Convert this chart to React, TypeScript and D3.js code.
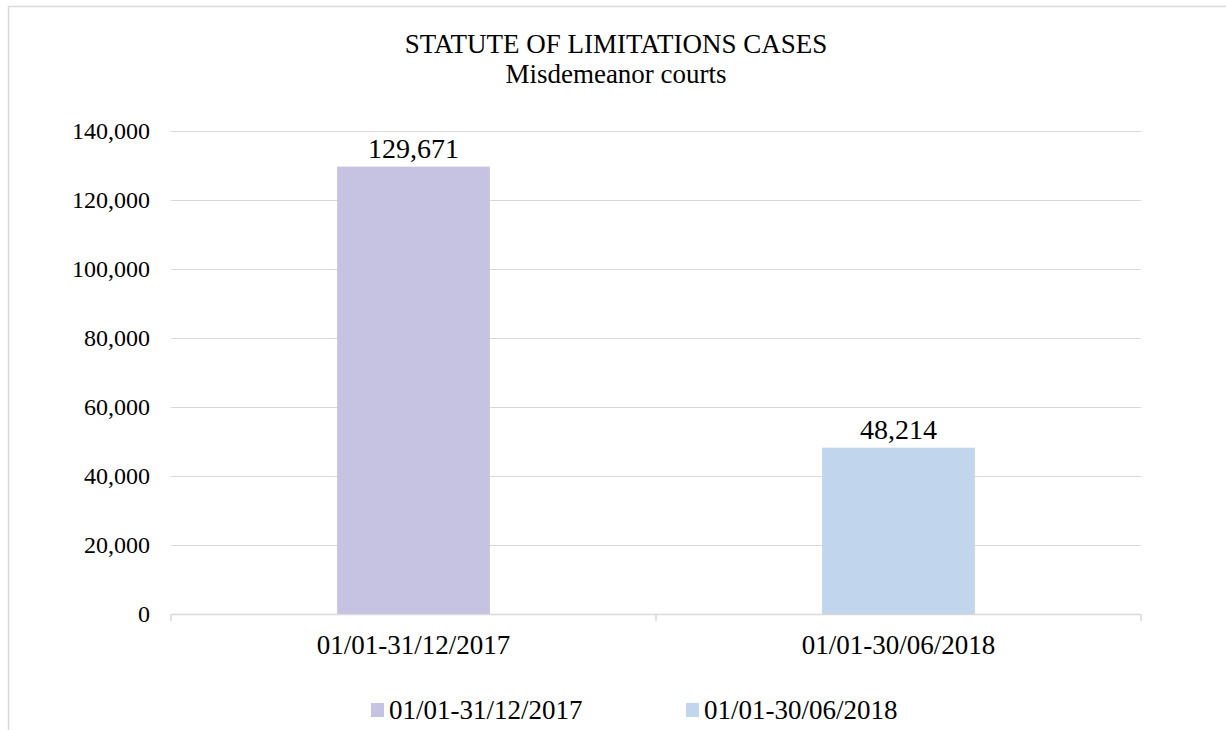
import React, { useEffect, useRef } from "react";
import * as d3 from "d3";

const categories = ["01/01-31/12/2017", "01/01-30/06/2018"];
const values = [129671, 48214];
const colors = ["#c6c2e1", "#c1d5ec"];
const yTicks = [0, 20000, 40000, 60000, 80000, 100000, 120000, 140000];

const App = () => {
  const svgRef = useRef<SVGSVGElement>(null);

  useEffect(() => {
    const width = 1226;
    const height = 730;
    const plot = { left: 171, right: 1141, top: 131, bottom: 614 };
    const font = "'Liberation Serif', 'Times New Roman', serif";

    const svg = d3.select(svgRef.current).attr("width", width).attr("height", height);
    svg.selectAll("*").remove();

    // chart frame
    svg
      .append("rect")
      .attr("x", 8.5)
      .attr("y", 6.5)
      .attr("width", 1240)
      .attr("height", 760)
      .attr("fill", "#fff")
      .attr("stroke", "#d9d9d9")
      .attr("stroke-width", 1.5);

    const x = d3
      .scaleBand()
      .domain(categories)
      .range([plot.left, plot.right])
      .paddingInner(0.685)
      .paddingOuter(0.3425);

    const y = d3.scaleLinear().domain([0, 140000]).range([plot.bottom, plot.top]);

    // title
    const title = svg
      .append("text")
      .attr("text-anchor", "middle")
      .attr("font-family", font)
      .attr("font-size", 27)
      .attr("fill", "#000");
    title.append("tspan").attr("x", 616).attr("y", 53).text("STATUTE OF LIMITATIONS CASES");
    title.append("tspan").attr("x", 616).attr("y", 83).text("Misdemeanor courts");

    // gridlines
    svg
      .append("g")
      .selectAll("line")
      .data(yTicks.filter((d) => d > 0))
      .join("line")
      .attr("x1", plot.left)
      .attr("x2", plot.right)
      .attr("y1", (d) => Math.round(y(d)) + 0.5)
      .attr("y2", (d) => Math.round(y(d)) + 0.5)
      .attr("stroke", "#d9d9d9")
      .attr("stroke-width", 1);

    // y axis labels
    const yAxis = d3
      .axisLeft(y)
      .tickValues(yTicks)
      .tickSize(0)
      .tickPadding(21)
      .tickFormat((d) => d3.format(",")(d as number));
    svg
      .append("g")
      .attr("transform", `translate(${plot.left},0)`)
      .call(yAxis)
      .call((g) => g.select(".domain").remove())
      .call((g) =>
        g
          .selectAll("text")
          .attr("font-family", font)
          .attr("font-size", 24)
          .attr("fill", "#000")
      );

    // bars
    svg
      .append("g")
      .selectAll("rect")
      .data(values)
      .join("rect")
      .attr("x", (d, i) => x(categories[i]) as number)
      .attr("y", (d) => y(d))
      .attr("width", x.bandwidth())
      .attr("height", (d) => y(0) - y(d))
      .attr("fill", (d, i) => colors[i]);

    // data labels
    svg
      .append("g")
      .selectAll("text")
      .data(values)
      .join("text")
      .attr("x", (d, i) => (x(categories[i]) as number) + x.bandwidth() / 2)
      .attr("y", (d) => y(d) - 9)
      .attr("text-anchor", "middle")
      .attr("font-family", font)
      .attr("font-size", 28)
      .attr("fill", "#000")
      .text((d) => d3.format(",")(d));

    // x axis line and ticks
    const xg = svg.append("g");
    xg.append("line")
      .attr("x1", plot.left)
      .attr("x2", plot.right)
      .attr("y1", plot.bottom + 0.5)
      .attr("y2", plot.bottom + 0.5)
      .attr("stroke", "#d9d9d9")
      .attr("stroke-width", 1.5);
    const step = x.step();
    const tickXs = d3.range(categories.length + 1).map((i) => plot.left + i * step);
    xg.selectAll("line.tick")
      .data(tickXs)
      .join("line")
      .attr("class", "tick")
      .attr("x1", (d) => d)
      .attr("x2", (d) => d)
      .attr("y1", plot.bottom)
      .attr("y2", plot.bottom + 7)
      .attr("stroke", "#d9d9d9")
      .attr("stroke-width", 1.5);
    xg.selectAll("text")
      .data(categories)
      .join("text")
      .attr("x", (d) => (x(d) as number) + x.bandwidth() / 2)
      .attr("y", 654)
      .attr("text-anchor", "middle")
      .attr("font-family", font)
      .attr("font-size", 27)
      .attr("fill", "#000")
      .text((d) => d);

    // legend
    const legendX = [371, 686];
    const legend = svg
      .append("g")
      .selectAll("g")
      .data(categories)
      .join("g")
      .attr("transform", (d, i) => `translate(${legendX[i]},0)`);
    legend
      .append("rect")
      .attr("x", 0)
      .attr("y", 703)
      .attr("width", 13)
      .attr("height", 14)
      .attr("fill", (d, i) => colors[i]);
    legend
      .append("text")
      .attr("x", 18)
      .attr("y", 719)
      .attr("font-family", font)
      .attr("font-size", 27)
      .attr("fill", "#000")
      .text((d) => d);
  }, []);

  return <svg ref={svgRef} style={{ position: "absolute", left: 0, top: 0 }} />;
};

export default App;
